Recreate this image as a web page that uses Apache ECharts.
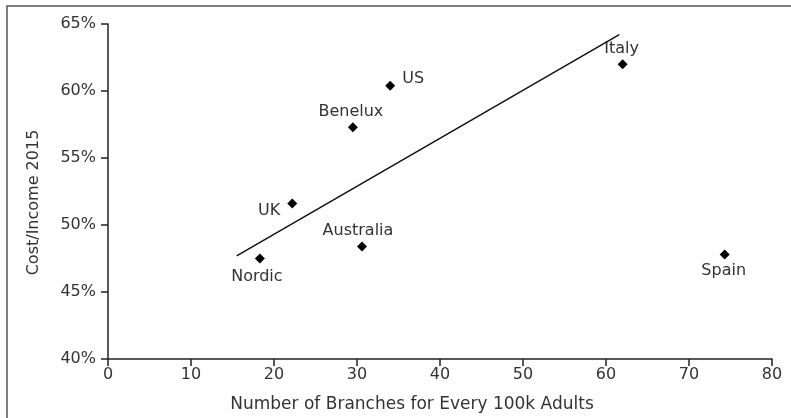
<!DOCTYPE html>
<html>
<head>
<meta charset="utf-8">
<script src="https://cdn.jsdelivr.net/npm/echarts@6/dist/echarts.min.js"></script>
<style>html,body{margin:0;padding:0;background:#fff}#c{width:791px;height:418px}</style>
</head>
<body>
<div id="c"></div>
<script>
var countries = ['Nordic','UK','Australia','Benelux','US','Italy','Spain'];
var branches = [18.3, 22.2, 30.6, 29.5, 34.0, 62.0, 74.3];
var costIncome = [47.5, 51.6, 48.4, 57.3, 60.4, 62.0, 47.8];
var trendX = [15.5, 61.6];
var trendY = [47.7, 64.2];
var xTicks = [0, 80, 10];
var yTicks = [40, 65, 5];

var labelCfg = {
  'Nordic':    {position:'bottom', distance:5, offset:[-3,0]},
  'UK':        {position:'left', distance:7, offset:[0,7]},
  'Australia': {position:'top', distance:3, offset:[-4,0]},
  'Benelux':   {position:'top', distance:2, offset:[-2,0]},
  'US':        {position:'right', distance:7, offset:[0,-7]},
  'Italy':     {position:'top', distance:2, offset:[-1,0]},
  'Spain':     {position:'bottom', distance:3, offset:[-1,0]}
};

var FONT = '"DejaVu Sans", "Liberation Sans", sans-serif';
var FS = 16;
var pts = countries.map(function(n,i){
  var l = labelCfg[n];
  return {name:n, value:[branches[i], costIncome[i]],
    label:{show:true, formatter:'{b}', position:l.position, distance:l.distance, offset:l.offset,
      color:'#333', fontSize:FS, fontFamily:FONT}};
});
var trend = trendX.map(function(x,i){return [x, trendY[i]];});

var chart = echarts.init(document.getElementById('c'), null, {renderer:'canvas'});
chart.setOption({
  animation:false,
  backgroundColor:'#fff',
  graphic:[{type:'rect', shape:{x:7, y:6, width:900, height:600},
    style:{fill:'none', stroke:'#555', lineWidth:1.5}, z:-1}],
  grid:{left:108, right:19, top:24, bottom:59, containLabel:false},
  xAxis:{type:'value', min:xTicks[0], max:xTicks[1], interval:xTicks[2],
    name:'Number of Branches for Every 100k Adults', nameLocation:'middle', nameGap:37,
    nameTextStyle:{color:'#333', fontSize:17, fontFamily:FONT, padding:[0,56,0,0]},
    axisLine:{lineStyle:{color:'#222', width:1.5}},
    axisTick:{show:true, length:7, inside:false, lineStyle:{color:'#222', width:1.5}},
    axisLabel:{color:'#333', fontSize:FS, fontFamily:FONT, margin:8},
    splitLine:{show:false}},
  yAxis:{type:'value', min:yTicks[0], max:yTicks[1], interval:yTicks[2],
    name:'Cost/Income 2015', nameLocation:'middle', nameGap:66,
    nameTextStyle:{color:'#333', fontSize:FS, fontFamily:FONT, padding:[0,22,0,0]},
    axisLine:{show:true, lineStyle:{color:'#222', width:1.5}},
    axisTick:{show:true, length:7, inside:false, lineStyle:{color:'#222', width:1.5}},
    axisLabel:{color:'#333', fontSize:FS, fontFamily:FONT, margin:12, formatter:'{value}%'},
    splitLine:{show:false}},
  series:[
    {type:'line', data:trend, symbol:'none', lineStyle:{color:'#111', width:1.5}, silent:true},
    {type:'scatter', data:pts, symbol:'diamond', symbolSize:10, itemStyle:{color:'#000', opacity:1}}
  ]
});
</script>
</body>
</html>
